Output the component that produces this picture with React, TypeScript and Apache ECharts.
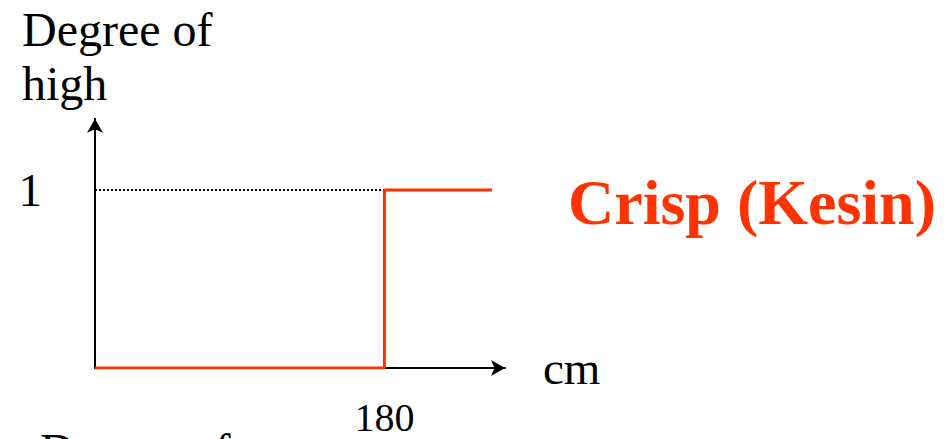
import React, { useEffect, useRef } from "react";
import * as echarts from "echarts";

const stepX = [0, 180, 180, 247];
const stepY = [0, 0, 1, 1];
const refX = [0, 180];
const refY = [1, 1];
const xTickLabels = [180];
const yTickLabels = [1];
const yAxisName = ["Degree of", "high"];
const xAxisName = "cm";
const setTitle = "Crisp (Kesin)";
const nextCaption = "Degree of";

const RED = "#FF3300";
const SERIF = "'Liberation Serif', 'Times New Roman', serif";

export default function App() {
  const ref = useRef<HTMLDivElement>(null);
  useEffect(() => {
    if (!ref.current) return;
    const chart = echarts.init(ref.current, undefined, { renderer: "svg" });
    chart.setOption({
      animation: false,
      backgroundColor: "#ffffff",
      grid: { left: 95, right: 442, top: 118.8, bottom: 71, containLabel: false },
      xAxis: {
        type: "value",
        min: 0,
        max: 255,
        name: xAxisName,
        nameLocation: "end",
        nameGap: 38,
        nameTextStyle: {
          fontFamily: SERIF,
          fontSize: 47,
          color: "#000",
          verticalAlign: "middle",
          padding: [6, 0, 0, 0],
        },
        axisLine: {
          show: true,
          onZero: false,
          symbol: ["none", "arrow"],
          symbolSize: [12, 14],
          symbolOffset: [0, 0],
          lineStyle: { color: "#000", width: 2 },
        },
        axisTick: { show: false },
        splitLine: { show: false },
        axisLabel: {
          customValues: xTickLabels,
          fontFamily: SERIF,
          fontSize: 40,
          color: "#000",
          margin: 29,
        },
      },
      yAxis: {
        type: "value",
        min: 0,
        max: 1.4,
        axisLine: {
          show: true,
          onZero: false,
          symbol: ["none", "arrow"],
          symbolSize: [12, 14],
          lineStyle: { color: "#000", width: 2 },
        },
        axisTick: { show: false },
        splitLine: { show: false },
        axisLabel: {
          customValues: yTickLabels,
          fontFamily: SERIF,
          fontSize: 47,
          color: "#000",
          margin: 53,
        },
      },
      series: [
        {
          type: "line",
          data: refX.map((x, i) => [x, refY[i]]),
          symbol: "none",
          lineStyle: { color: "#000", width: 2, type: [2, 2] },
          z: 2,
        },
        {
          type: "line",
          data: stepX.map((x, i) => [x, stepY[i]]),
          symbol: "none",
          lineStyle: { color: RED, width: 3 },
          z: 3,
        },
      ],
      graphic: [
        {
          type: "text",
          left: 22,
          top: 5,
          style: { text: yAxisName[0], font: `48px ${SERIF}`, fill: "#000" },
        },
        {
          type: "text",
          left: 22,
          top: 59,
          style: { text: yAxisName[1], font: `48px ${SERIF}`, fill: "#000" },
        },
        {
          type: "text",
          left: 568,
          top: 170,
          style: { text: setTitle, font: `bold 64px ${SERIF}`, fill: RED },
        },
        {
          type: "text",
          left: 40,
          top: 426,
          style: { text: nextCaption, font: `48px ${SERIF}`, fill: "#000" },
        },
      ],
    });
    return () => chart.dispose();
  }, []);
  return (
    <div
      ref={ref}
      style={{ position: "fixed", left: 0, top: 0, width: 947, height: 439 }}
    />
  );
}
